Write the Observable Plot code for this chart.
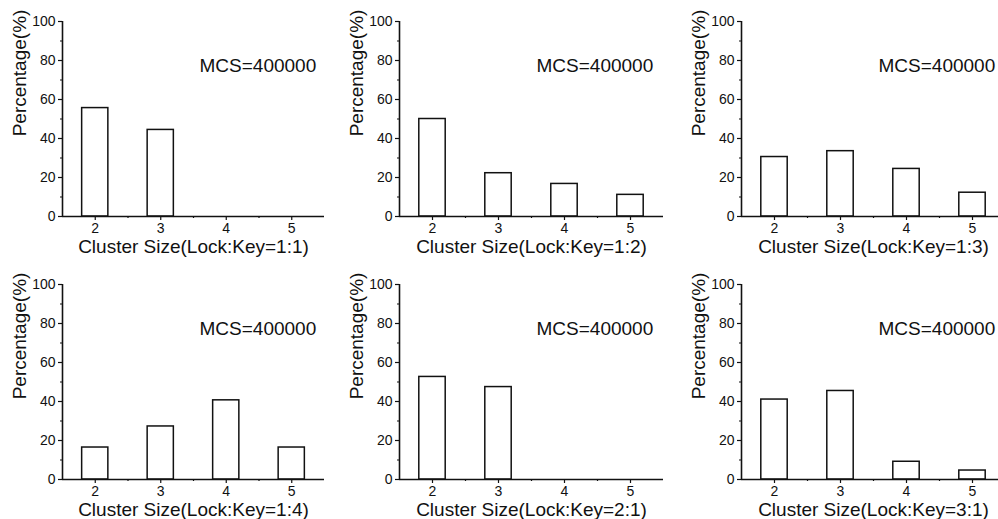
<!DOCTYPE html>
<html>
<head>
<meta charset="utf-8">
<script src="https://cdn.jsdelivr.net/npm/d3@7"></script>
<script src="https://cdn.jsdelivr.net/npm/@observablehq/plot@0.6"></script>
<style>
  html, body { margin: 0; padding: 0; background: #fff; }
  body { width: 998px; height: 519px; overflow: hidden; position: relative; }
  .panel { position: absolute; }
  .panel svg { overflow: visible; max-width: none !important; display: block; }
</style>
</head>
<body>
<div id="root"></div>
<script>
// ---- data ----
const sizes = [2, 3, 4, 5];
const pct11 = [55.6, 44.4, 0, 0];
const pct12 = [50.0, 22.2, 16.7, 11.1];
const pct13 = [30.5, 33.5, 24.4, 12.2];
const pct14 = [16.4, 27.2, 40.6, 16.4];
const pct21 = [52.6, 47.4, 0, 0];
const pct31 = [41.0, 45.4, 9.1, 4.6];
const ratios = ["1:1", "1:2", "1:3", "1:4", "2:1", "3:1"];
const series = [pct11, pct12, pct13, pct14, pct21, pct31];
const yTicks = [0, 20, 40, 60, 80, 100];
const yMinorTicks = [10, 30, 50, 70, 90];
const xMinorTicks = [2.5, 3.5, 4.5];
const xDomain = [1.5, 5.5];
const yDomain = [0, 100];
const mcsLabel = "MCS=400000";
const yLabel = "Percentage(%)";
const xLabelPrefix = "Cluster Size(Lock:Key=";

// ---- layout ----
const cols = [
  {left: 0,   width: 333, ml: 62, mr: 9},
  {left: 333, width: 333, ml: 66, mr: 3},
  {left: 666, width: 340, ml: 75, mr: 1}
];
const rows = [
  {top: 0,   height: 259, mt: 21, mb: 43},
  {top: 259, height: 260, mt: 25, mb: 40}
];
const barHalf = 0.2;
const ink = "#111";
const font = "'Liberation Sans', Arial, Helvetica, sans-serif";

const root = document.getElementById("root");
series.forEach((vals, i) => {
  const c = cols[i % 3], r = rows[Math.floor(i / 3)];
  const data = sizes.map((s, k) => ({size: s, pct: vals[k]})).filter(d => d.pct > 0);
  const chart = Plot.plot({
    width: c.width, height: r.height,
    marginLeft: c.ml, marginRight: c.mr, marginTop: r.mt, marginBottom: r.mb,
    style: {fontFamily: font, fontSize: "14px", color: ink, background: "transparent"},
    x: {domain: xDomain},
    y: {domain: yDomain},
    marks: [
      Plot.rect(data, {
        x1: d => d.size - barHalf, x2: d => d.size + barHalf,
        y1: 0, y2: "pct",
        fill: "white", stroke: ink, strokeWidth: 1.5
      }),
      Plot.axisY({ticks: yTicks, tickFormat: d => String(d), tickSize: 4, tickPadding: 3, label: null, fontSize: 14, strokeWidth: 1.2}),
      Plot.axisY({ticks: yMinorTicks, tickSize: 2, text: null, label: null, strokeWidth: 1.2}),
      Plot.axisX({ticks: sizes, tickFormat: d => String(d), tickSize: 4, tickPadding: 3, label: null, fontSize: 14, strokeWidth: 1.2}),
      Plot.axisX({ticks: xMinorTicks, tickSize: 2, text: null, label: null, strokeWidth: 1.2}),
      Plot.ruleY([yDomain[0]], {stroke: ink, strokeWidth: 1.6}),
      Plot.ruleX([xDomain[0]], {stroke: ink, strokeWidth: 1.6}),
      Plot.text([mcsLabel], {
        text: d => d, frameAnchor: "top-left", textAnchor: "start", lineAnchor: "middle",
        dx: 137, dy: 44, fontSize: 19, fill: ink
      }),
      Plot.text([yLabel], {
        text: d => d, frameAnchor: "left", rotate: -90, textAnchor: "middle", lineAnchor: "middle",
        dx: -43, dy: -46, fontSize: 19, fill: ink
      }),
      Plot.text([xLabelPrefix + ratios[i] + ")"], {
        text: d => d, frameAnchor: "bottom", textAnchor: "middle", lineAnchor: "middle",
        dy: 30, fontSize: 19, fill: ink
      })
    ]
  });
  const div = document.createElement("div");
  div.className = "panel";
  div.style.left = c.left + "px";
  div.style.top = r.top + "px";
  div.style.width = c.width + "px";
  div.style.height = r.height + "px";
  div.appendChild(chart);
  root.appendChild(div);
});
</script>
</body>
</html>
